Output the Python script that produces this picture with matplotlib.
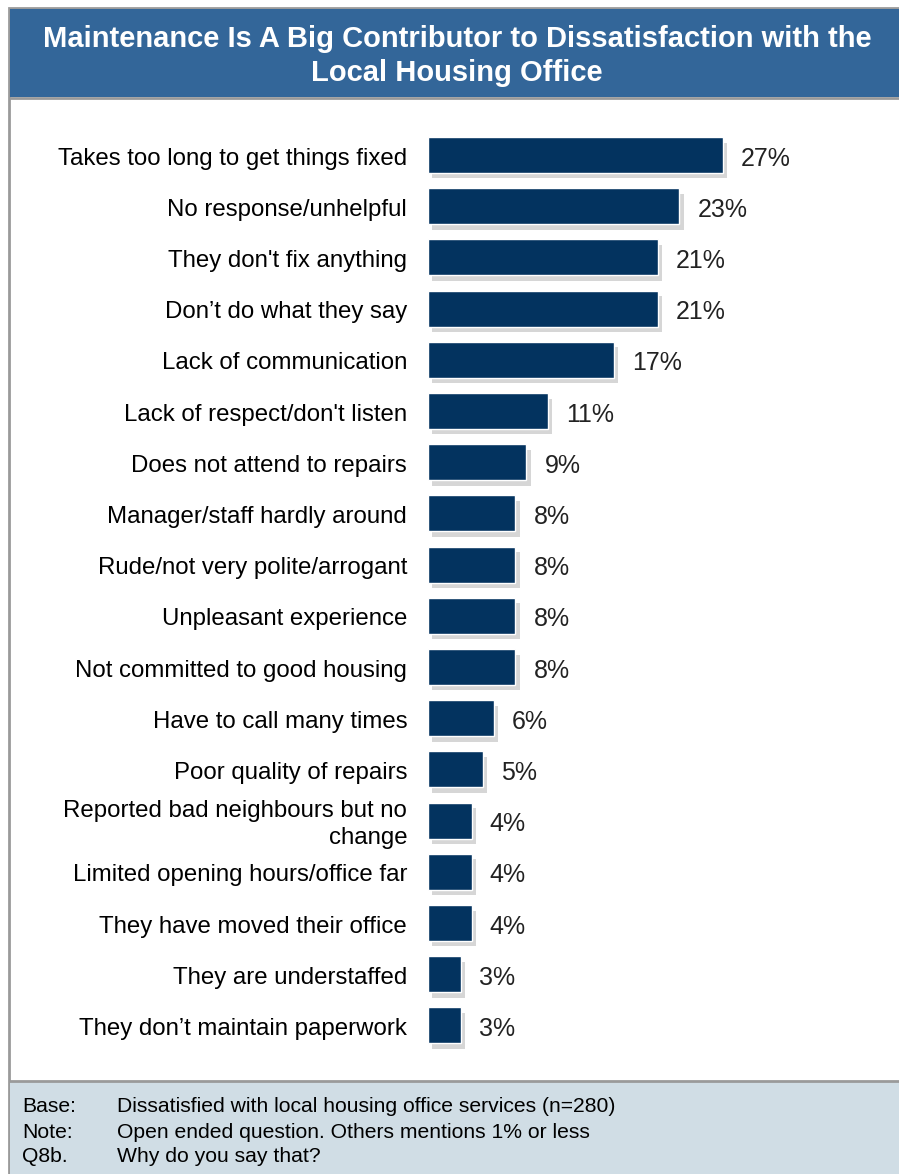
import matplotlib.pyplot as plt
import matplotlib.patches as patches
import matplotlib.patheffects as pe

plt.rcParams['font.family'] = ['Liberation Sans', 'DejaVu Sans']

categories = [
    "Takes too long to get things fixed",
    "No response/unhelpful",
    "They don't fix anything",
    "Don\u2019t do what they say",
    "Lack of communication",
    "Lack of respect/don't listen",
    "Does not attend to repairs",
    "Manager/staff hardly around",
    "Rude/not very polite/arrogant",
    "Unpleasant experience",
    "Not committed to good housing",
    "Have to call many times",
    "Poor quality of repairs",
    "Reported bad neighbours but no\nchange",
    "Limited opening hours/office far",
    "They have moved their office",
    "They are understaffed",
    "They don\u2019t maintain paperwork",
]
values = [27, 23, 21, 21, 17, 11, 9, 8, 8, 8, 8, 6, 5, 4, 4, 4, 3, 3]

title = "Maintenance Is A Big Contributor to Dissatisfaction with the\nLocal Housing Office"
notes = [
    ("Base:", "Dissatisfied with local housing office services (n=280)"),
    ("Note:", "Open ended question. Others mentions 1% or less"),
    ("Q8b.", "Why do you say that?"),
]

W, H = 899, 1174
fig = plt.figure(figsize=(W / 100, H / 100), dpi=100)

# frame, header, footer
bg = fig.add_axes([0, 0, 1, 1])
bg.set_xlim(0, W)
bg.set_ylim(H, 0)
bg.axis('off')
bg.add_patch(patches.Rectangle((9, 8), W, H, facecolor='white', edgecolor='#9a9a9a', lw=2))
bg.add_patch(patches.Rectangle((10, 9), W, 88, facecolor='#336699', edgecolor='none'))
bg.plot([10, W], [98, 98], color='#9a9a9a', lw=2)
bg.add_patch(patches.Rectangle((10, 1081), W, H, facecolor='#d0dde5', edgecolor='none'))
bg.plot([10, W], [1081, 1081], color='#9a9a9a', lw=2)
bg.text(457, 56, title, color='white', fontsize=21, fontweight='bold',
        ha='center', va='center', linespacing=1.3)
for i, (k, v) in enumerate(notes):
    yy = 1107 + i * 25
    bg.text(22, yy, k, fontsize=15.2, va='center', color='black')
    bg.text(117, yy, v, fontsize=15.2, va='center', color='black')

# bars
n = len(values)
step = 51.2
top = 155 - step / 2
ax_l, ax_t = 428, top
ax_w = 30 * 10.93
ax_h = n * step
ax = fig.add_axes([ax_l / W, 1 - (ax_t + ax_h) / H, ax_w / W, ax_h / H])
ax.set_xlim(0, 30)
ax.set_ylim(n - 0.5, -0.5)
ax.axis('off')

bars = ax.barh(range(n), values, height=0.70, color='#03335f',
               edgecolor='white', linewidth=1.0)
for b in bars:
    b.set_path_effects([pe.SimplePatchShadow(offset=(3, -4), shadow_rgbFace='#999999', alpha=0.4),
                        pe.Normal()])

for i, (c, v) in enumerate(zip(categories, values)):
    ax.text(v + 1.65, i + 0.07, f"{v}%", fontsize=18, va='center', ha='left', color='#222222')
    ax.text(-1.9, i + 0.07, c, fontsize=17.3, va='center', ha='right', multialignment='right',
            color='black', linespacing=1.3)

fig.savefig('out.png', dpi=100)
